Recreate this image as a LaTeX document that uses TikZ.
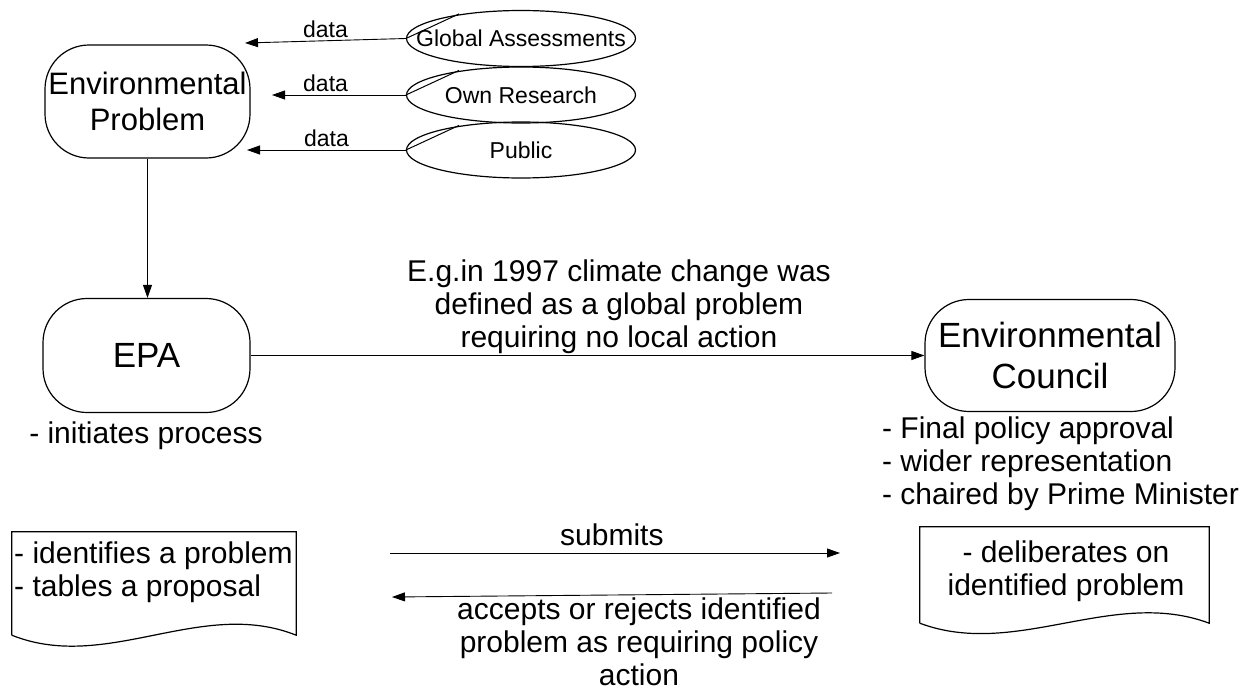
\documentclass[tikz,border=0pt]{standalone}
\usepackage{fontspec}
\setmainfont{Liberation Sans}
\usetikzlibrary{shapes.geometric,arrows.meta}
\begin{document}
\begin{tikzpicture}[x=1pt,y=-1pt]
\tikzstyle{actor} = [draw, line width=1.2pt, rounded corners=44pt, align=center, inner sep=0pt];
\tikzstyle{source} = [draw, ellipse, line width=1.2pt, minimum width=229pt, minimum height=56pt, inner sep=0pt, font=\fontsize{23}{26}\selectfont];
\tikzstyle{flow} = [-{Triangle[length=13pt,width=9pt]}, line width=0.9pt];
\tikzstyle{note} = [align=center, inner sep=0pt, font=\fontsize{30}{33}\selectfont];
\tikzstyle{datalabel} = [above=3pt, inner sep=0pt, font=\fontsize{23}{26}\selectfont];
\tikzstyle{docbox} = [minimum width=#1, inner sep=0pt];
\useasboundingbox (0,0) rectangle (1258,696);
% actors
\node[actor, minimum width=205pt, minimum height=113pt, font=\fontsize{31}{36}\selectfont] (problem) at (147.5,101.5) {Environmental\\Problem};
\node[actor, minimum width=207pt, minimum height=114pt, font=\fontsize{35}{40}\selectfont] (epa) at (146.5,355.5) {EPA};
\node[actor, minimum width=250pt, minimum height=112pt, font=\fontsize{35}{41}\selectfont] (council) at (1050,355.5) {Environmental\\Council};
% data sources
\node[source] (global) at (521,38.5) {\makebox[0pt]{Global Assessments}};
\node[source] (research) at (521,95) {\makebox[0pt]{Own Research}};
\node[source] (public) at (521,150) {\makebox[0pt]{Public}};
\draw[line width=1pt] (global.west) -- ([xshift=-62pt,yshift=-4pt]global.north);
\draw[line width=1pt] (research.west) -- ([xshift=-62pt,yshift=-4pt]research.north);
\draw[line width=1pt] (public.west) -- ([xshift=-62pt,yshift=-4pt]public.north);
\coordinate (gtip) at (245,43);
\coordinate (rtip) at (272,95);
\coordinate (ptip) at (247,150);
\draw[flow] (global.west) -- node[datalabel] {data} (gtip);
\draw[flow] (research.west) -- node[datalabel, pos=0.6] {data} (rtip);
\draw[flow] (public.west) -- node[datalabel] {data} (ptip);
% main flow
\draw[flow] (problem.south) -- (problem.south |- epa.north);
\draw[flow] (epa) -- (council);
\node[note] (example) at (619,307) {E.g.in 1997 climate change was\\defined as a global problem\\requiring no local action};
\node[note] (initiates) at (146,436) {- initiates process};
\node[note, align=left] (roles) at (1060.5,463.5) {- Final policy approval\\- wider representation\\- chaired by Prime Minister};
% documents
\node[minimum width=284pt, minimum height=103pt, inner sep=0pt] (lbox) at (154,583.5) {};
\draw[line width=1.2pt] (lbox.south west) -- (lbox.north west) -- (lbox.north east) -- (lbox.south east)
  .. controls +(-95,-38) and +(95,38) .. (lbox.south west);
\node[note, align=left, anchor=north west] (ltext) at (14,542) {- identifies a problem\\- tables a proposal};
\node[minimum width=289pt, minimum height=96pt, inner sep=0pt] (rbox) at (1064.5,575) {};
\draw[line width=1.2pt] (rbox.south west) -- (rbox.north west) -- (rbox.north east) -- (rbox.south east)
  .. controls +(-96,-36) and +(96,36) .. (rbox.south west);
\node[note] (rtext) at (1066,571.5) {- deliberates on\\identified problem};
% exchange
\coordinate (sstart) at (390,553);
\coordinate (send) at (840,553);
\coordinate (rstart) at (832,593);
\coordinate (rend) at (392,597);
\draw[flow] (sstart) -- node[note, above=7pt, pos=0.493] {submits} (send);
\draw[flow] (rstart) -- (rend);
\node[note] (verdict) at (639,642) {accepts or rejects identified\\problem as requiring policy\\action};
\end{tikzpicture}
\end{document}
